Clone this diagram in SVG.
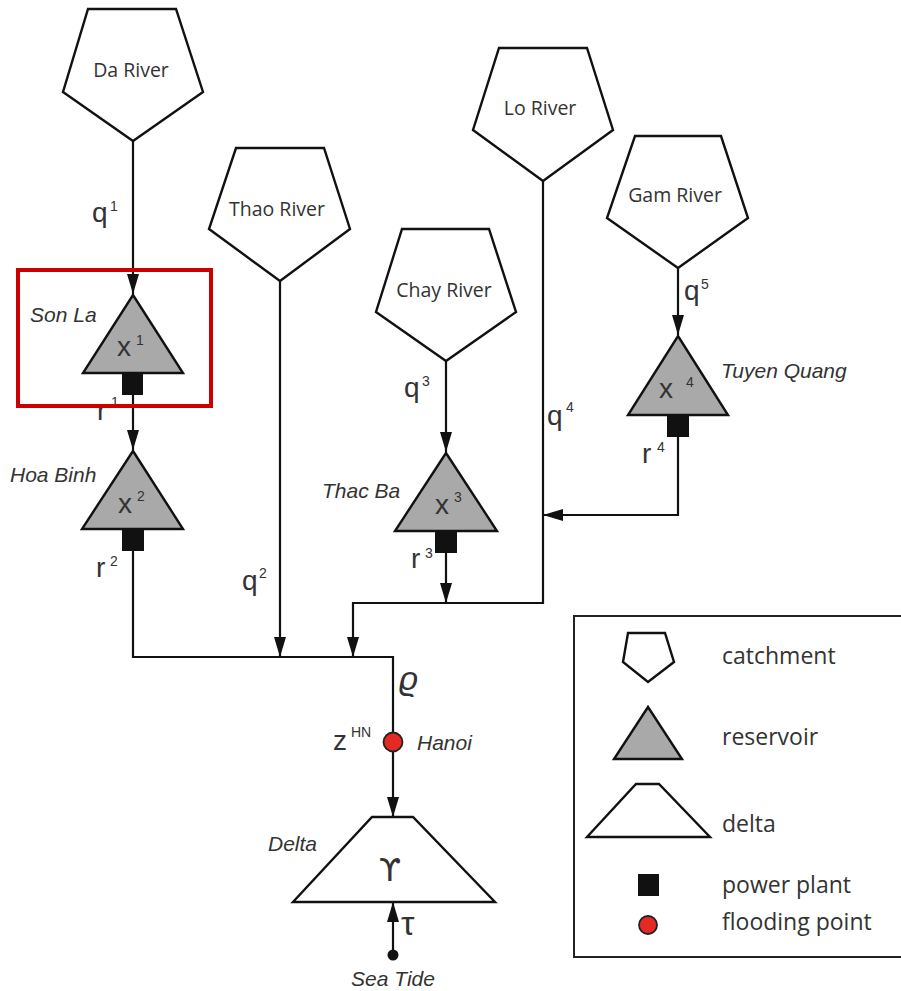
<svg xmlns="http://www.w3.org/2000/svg" width="901" height="991" viewBox="0 0 901 991">
<defs>
<marker id="arr" viewBox="0 0 20 12" markerWidth="20" markerHeight="12" refX="20" refY="6" orient="auto" markerUnits="userSpaceOnUse">
<path d="M0,0 L20,6 L0,12 z" fill="#111"/>
</marker>
<style>
.pent{fill:#fff;stroke:#111;stroke-width:2.4;stroke-linejoin:miter}
.res{fill:#a9a9a9;stroke:#111;stroke-width:2.4}
.pp{fill:#111}
.line{fill:none;stroke:#111;stroke-width:2.2}
.arrow{fill:none;stroke:#111;stroke-width:2.2;marker-end:url(#arr)}
.node{font-family:"Open Sans","Noto Sans",sans-serif;font-size:19.5px;fill:#333;text-anchor:middle}
.it{font-family:"Liberation Sans",Arial,sans-serif;font-size:21px;font-style:italic;fill:#333}
.var{font-family:"Liberation Sans",Arial,sans-serif;font-size:28px;fill:#333}
.sup{font-family:"Liberation Sans",Arial,sans-serif;font-size:14px;fill:#333}
.leg{font-family:"Open Sans","Noto Sans",sans-serif;font-size:23px;fill:#333}
</style>
</defs>
<rect width="901" height="991" fill="#fff"/>

<g id="connectors">
<path class="arrow" d="M133,141 V294"/>
<path class="arrow" d="M133,395 V450"/>
<path class="line" d="M133,551 V657 H393 V733"/>
<path class="arrow" d="M280,281 V657"/>
<path class="line" d="M543,181 V603 H353"/>
<path class="arrow" d="M353,602 V657"/>
<path class="arrow" d="M446,361 V452"/>
<path class="arrow" d="M446,553 V603"/>
<path class="arrow" d="M678,268 V335"/>
<path class="arrow" d="M678,437 V515 H543"/>
<path class="arrow" d="M393,752 V817"/>
<path class="arrow" d="M393,955 V902"/>
</g>

<g id="da-river">
<polygon class="pent" points="88,9 176,9 203,92 133,141 63,92"/>
<text class="node" x="131" y="77">Da River</text>
</g>
<g id="thao-river">
<polygon class="pent" points="236,148 324,148 350,229 280,281 209,229"/>
<text class="node" x="277" y="216">Thao River</text>
</g>
<g id="chay-river">
<polygon class="pent" points="402,229 489,229 516,312 446,361 376,312"/>
<text class="node" x="444" y="297">Chay River</text>
</g>
<g id="lo-river">
<polygon class="pent" points="499,48 587,48 613,130 543,181 473,130"/>
<text class="node" x="540" y="115">Lo River</text>
</g>
<g id="gam-river">
<polygon class="pent" points="635,136 721,136 748,218 678,268 607,218"/>
<text class="node" x="675" y="202">Gam River</text>
</g>

<g id="son-la">
<polygon class="res" points="133,295 183,373 83,373"/>
<rect class="pp" x="122" y="373" width="21" height="22"/>
<text class="it" x="30" y="322">Son La</text>
<text class="var" x="117" y="356">x</text><text class="sup" x="136" y="345">1</text>
</g>
<g id="hoa-binh">
<polygon class="res" points="133,451 183,529 82,529"/>
<rect class="pp" x="122" y="529" width="22" height="22"/>
<text class="it" x="10" y="482">Hoa Binh</text>
<text class="var" x="118" y="513">x</text><text class="sup" x="137" y="501">2</text>
</g>
<g id="thac-ba">
<polygon class="res" points="446,453 497,531 395,531"/>
<rect class="pp" x="435" y="531" width="22" height="22"/>
<text class="it" x="322" y="498">Thac Ba</text>
<text class="var" x="435" y="514">x</text><text class="sup" x="454" y="502">3</text>
</g>
<g id="tuyen-quang">
<polygon class="res" points="678,336 728,415 628,415"/>
<rect class="pp" x="667" y="415" width="22" height="22"/>
<text class="it" x="721" y="378">Tuyen Quang</text>
<text class="var" x="659" y="398">x</text><text class="sup" x="686" y="387">4</text>
</g>

<g id="labels">
<text class="var" x="92" y="222">q</text><text class="sup" x="110" y="211">1</text>
<text class="var" x="242" y="590">q</text><text class="sup" x="259" y="578">2</text>
<text class="var" x="404" y="397">q</text><text class="sup" x="422" y="386">3</text>
<text class="var" x="547" y="425">q</text><text class="sup" x="566" y="412">4</text>
<text class="var" x="684" y="300">q</text><text class="sup" x="701" y="289">5</text>
<text class="var" x="97" y="420">r</text><text class="sup" x="111" y="407">1</text>
<text class="var" x="96" y="577">r</text><text class="sup" x="110" y="566">2</text>
<text class="var" x="411" y="568">r</text><text class="sup" x="425" y="558">3</text>
<text class="var" x="642" y="463">r</text><text class="sup" x="657" y="452">4</text>
<text class="var" x="399" y="690" style="font-size:33px;font-style:italic">ϱ</text>
<text class="var" x="333" y="750">z</text><text class="sup" x="351" y="737">HN</text>
<text class="var" x="401" y="935" style="font-size:34px">τ</text>
</g>

<g id="hanoi">
<circle cx="393" cy="742" r="9.5" fill="#e42a22" stroke="#222" stroke-width="1.8"/>
<text class="it" x="417" y="750">Hanoi</text>
</g>

<g id="delta">
<polygon points="372,817 413,817 495,902 293,902" fill="#fff" stroke="#111" stroke-width="2.4"/>
<text x="390" y="881" font-family="DejaVu Sans,sans-serif" font-size="32" fill="#333" text-anchor="middle">ϒ</text>
<text class="it" x="268" y="851">Delta</text>
</g>

<g id="sea-tide">
<circle cx="393" cy="955" r="5.5" fill="#111"/>
<text class="it" x="393" y="986" text-anchor="middle">Sea Tide</text>
</g>

<g id="legend">
<rect x="574" y="616" width="340" height="341" fill="none" stroke="#222" stroke-width="2"/>
<polygon class="pent" points="628,633 665,633 674,662 648,682 623,662"/>
<text class="leg" x="722" y="664">catchment</text>
<polygon class="res" points="648,707 682,759 614,759"/>
<text class="leg" x="722" y="745">reservoir</text>
<polygon points="636,784 659,784 710,837 587,837" fill="#fff" stroke="#111" stroke-width="2.4"/>
<text class="leg" x="722" y="832">delta</text>
<rect class="pp" x="638" y="874" width="21" height="22"/>
<text class="leg" x="722" y="893">power plant</text>
<circle cx="648" cy="925" r="9" fill="#e42a22" stroke="#222" stroke-width="1.8"/>
<text class="leg" x="722" y="930">flooding point</text>
</g>

<g id="highlight">
<rect x="18" y="270" width="193" height="136" fill="none" stroke="#cc0000" stroke-width="4"/>
</g>
</svg>
